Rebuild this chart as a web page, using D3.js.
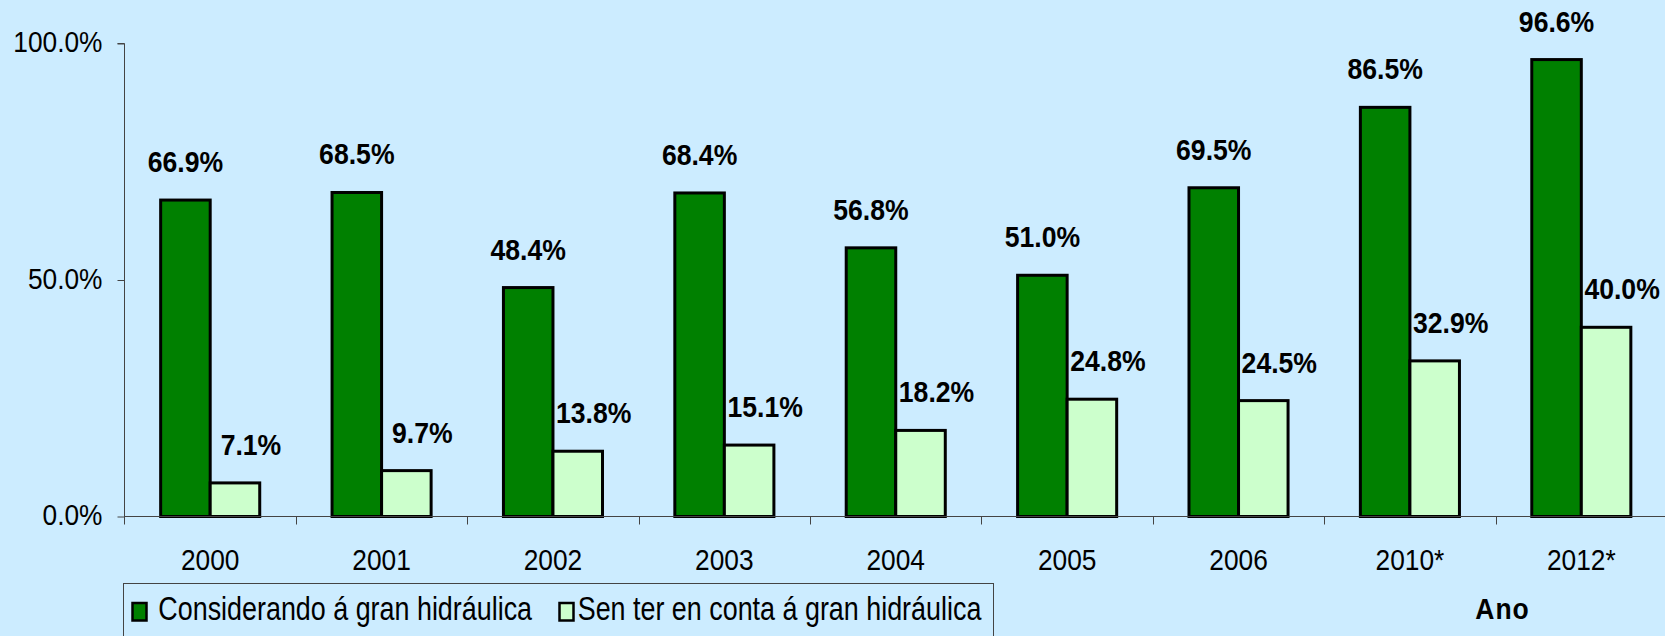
<!DOCTYPE html>
<html>
<head>
<meta charset="utf-8">
<script src="https://cdn.jsdelivr.net/npm/d3@7"></script>
<style>
  html, body { margin: 0; padding: 0; background: #CCECFF; }
  svg { display: block; }
  text { font-family: "Liberation Sans", Arial, sans-serif; fill: #000; }
</style>
</head>
<body>
<svg id="chart" width="1665" height="636"></svg>
<script>
// ---- data ----
const categories = ["2000", "2001", "2002", "2003", "2004", "2005", "2006", "2010*", "2012*"];
const seriesNames = ["Considerando á gran hidráulica", "Sen ter en conta á gran hidráulica"];
const withHydro = [66.9, 68.5, 48.4, 68.4, 56.8, 51.0, 69.5, 86.5, 96.6];
const withoutHydro = [7.1, 9.7, 13.8, 15.1, 18.2, 24.8, 24.5, 32.9, 40.0];
const yTicks = [0, 50, 100];
const axisTitle = "Ano";

// ---- styles ----
const colors = ["#008000", "#CCFFCC"];
const SY = 1.14; // vertical stretch of the text in the reference

const svg = d3.select("#chart");
svg.append("rect").attr("width", 1665).attr("height", 636).attr("fill", "#CCECFF");

const x = d3.scaleBand().domain(categories).range([124.5, 1667]).padding(0);
const xSub = d3.scaleBand().domain([0, 1]).range([0, x.bandwidth()]).paddingInner(0).paddingOuter(0.73);
const y = d3.scaleLinear().domain([0, 100]).range([516.5, 43.5]);

const rows = categories.map((c, i) => ({ cat: c, vals: [withHydro[i], withoutHydro[i]] }));

// bars
const groups = svg.append("g").selectAll("g").data(rows).join("g")
  .attr("transform", d => `translate(${x(d.cat)},0)`);
groups.selectAll("rect").data(d => d.vals.map((v, k) => ({ v, k }))).join("rect")
  .attr("x", d => xSub(d.k))
  .attr("y", d => y(d.v))
  .attr("width", xSub.bandwidth())
  .attr("height", d => y(0) - y(d.v))
  .attr("fill", d => colors[d.k])
  .attr("stroke", "#000")
  .attr("stroke-width", 3);

// value labels
groups.selectAll("text.val").data(d => d.vals.map((v, k) => ({ v, k }))).join("text")
  .attr("class", "val")
  .attr("text-anchor", "middle")
  .attr("font-size", "26.6px")
  .attr("font-weight", "bold")
  .attr("transform", d => `translate(${xSub(d.k) + xSub.bandwidth() / 2 + (d.k === 1 ? 16 : 0)},${y(d.v) - 28}) scale(1,${SY})`)
  .text(d => d3.format(".1f")(d.v) + "%");

// y axis
const yAxis = d3.axisLeft(y).tickValues(yTicks).tickSize(7).tickFormat(d => d3.format(".1f")(d) + "%");
const gy = svg.append("g").attr("transform", "translate(124.5,0)").call(yAxis);
gy.select(".domain").attr("stroke", "#444").attr("d", `M-7,${y(100)}H0V${y(0) + 8}`);
gy.selectAll(".tick line").attr("stroke", "#444");
gy.selectAll(".tick text")
  .attr("x", null).attr("dy", null)
  .attr("font-size", "26.3px")
  .attr("font-family", null)
  .attr("text-anchor", "end")
  .attr("transform", `translate(-22,8) scale(1,${SY})`);

// x axis (labels at band centres, ticks at band boundaries)
const xAxis = d3.axisBottom(x).tickSize(0);
const gx = svg.append("g").attr("transform", `translate(0,${y(0)})`).call(xAxis);
gx.select(".domain").attr("stroke", "#444").attr("d", `M124.5,0H1665`);
gx.selectAll(".tick text")
  .attr("y", null).attr("dy", null)
  .attr("font-size", "26.3px")
  .attr("font-family", null)
  .attr("transform", `translate(0,53.5) scale(1,${SY})`);
gx.selectAll("line.bound").data(categories.slice(1)).join("line")
  .attr("class", "bound")
  .attr("x1", d => Math.round(x(d)) + 0.5).attr("x2", d => Math.round(x(d)) + 0.5)
  .attr("y1", 0).attr("y2", 8)
  .attr("stroke", "#444");

// axis title
svg.append("text")
  .attr("text-anchor", "middle")
  .attr("font-size", "26.5px")
  .attr("font-weight", "bold")
  .attr("letter-spacing", "1px")
  .attr("transform", `translate(1502.5,619) scale(1,${SY})`)
  .text(axisTitle);

// legend
const lg = svg.append("g");
lg.append("rect")
  .attr("x", 123.5).attr("y", 583.5).attr("width", 870).attr("height", 70)
  .attr("fill", "none").attr("stroke", "#444").attr("stroke-width", 1);
const legendItems = [
  { sx: 132.5, tx: 158.3 },
  { sx: 559.5, tx: 577.7 }
];
legendItems.forEach((p, k) => {
  lg.append("rect")
    .attr("x", p.sx).attr("y", 603)
    .attr("width", 14).attr("height", 17.5)
    .attr("fill", colors[k]).attr("stroke", "#000").attr("stroke-width", 2.5);
  lg.append("text")
    .attr("font-size", "26.9px")
    .attr("transform", `translate(${p.tx},620) scale(1,1.2)`)
    .text(seriesNames[k]);
});
</script>
</body>
</html>
